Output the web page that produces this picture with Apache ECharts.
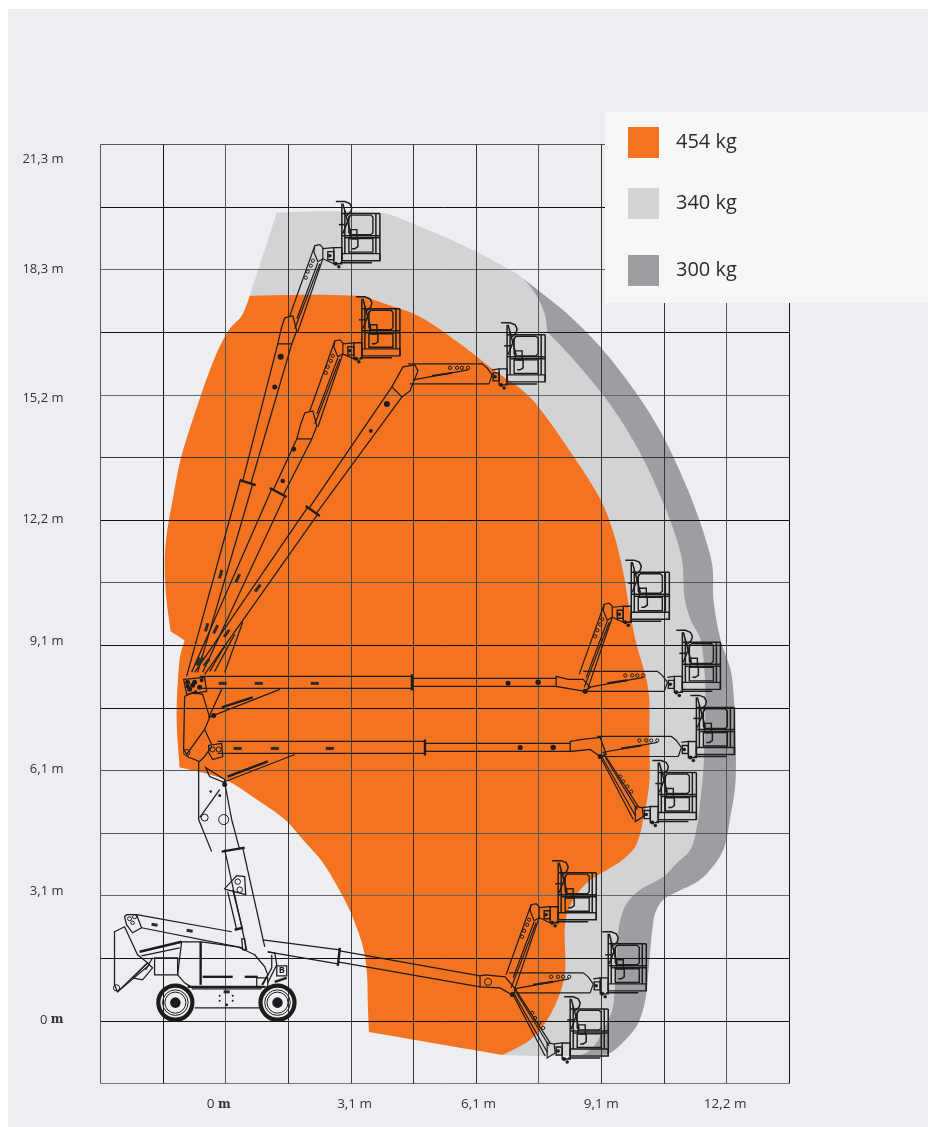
<!DOCTYPE html>
<html><head><meta charset="utf-8">
<script src="https://cdn.jsdelivr.net/npm/echarts@6/dist/echarts.min.js"></script>
<style>html,body{margin:0;padding:0;background:#fff}#c{width:928px;height:1127px}</style>
</head><body><div id="c"></div>
<script>
// All chart values are in feet: the diagram's grid is a 5 ft (1,52 m) mesh, measured from the machine's centre line and the ground.
const seriesNames = ['454 kg', '340 kg', '300 kg'];
const xTickPositions = [-0.56, 10.3, 20.2, 30, 39.9];
const xTickLabels = ['0 {s|m}', '3,1 m', '6,1 m', '9,1 m', '12,2 m'];
const yTickPositions = [0.08, 10.32, 20.08, 30.32, 40.08, 49.76, 60.0, 68.8];
const yTickLabels = ['0 {s|m}', '3,1 m', '6,1 m', '9,1 m', '12,2 m', '15,2 m', '18,3 m', '21,3 m'];

const reach454 = [[1.92,57.92],[10.48,57.92],[12.72,57.28],[15.52,56.24],[18.72,54.08],[21.52,51.92],[23.76,50.32],[25.12,48.88],[27.76,45.12],[29.92,41.68],[30.96,39.04],[31.76,35.84],[32.16,33.44],[32.72,30.48],[33.76,26.48],[33.84,23.04],[33.84,19.04],[33.36,16.08],[32.96,14.48],[32.56,13.68],[31.52,12.72],[30.08,11.84],[28.88,11.04],[27.76,9.68],[27.12,7.84],[27.12,4.08],[26.72,2.24],[25.68,0.08],[24.32,-1.52],[22.08,-2.72],[11.44,-0.88],[11.36,1.12],[11.28,3.84],[10.96,5.92],[10.16,8.24],[9.28,10.08],[7.76,12.64],[6.16,14.48],[4.72,16.08],[2.48,17.68],[-0.08,19.28],[-3.68,20.24],[-3.92,24.32],[-3.68,28.88],[-3.28,30.4],[-4.4,31.12],[-4.8,34.48],[-4.8,38.08],[-4.08,42.48],[-3.6,44.88],[-2.88,47.28],[-2.08,49.68],[-1.28,51.92],[-0.56,53.68],[0.32,55.28],[1.28,56.32]];
const reach340 = [[4.08,64.56],[12.32,64.56],[15.52,63.44],[19.52,61.68],[22.56,60.08],[23.76,59.28],[24.88,57.84],[25.52,56.32],[25.68,55.04],[27.52,53.12],[30.08,50.08],[31.76,47.68],[33.36,44.88],[34.72,41.92],[35.76,39.28],[36.48,36.64],[36.64,33.92],[37.12,32.08],[37.92,30.48],[38.24,28.08],[38.32,25.68],[38.16,20.08],[37.92,17.68],[37.68,15.68],[37.12,13.68],[36.08,12.64],[34.96,11.52],[33.12,10.48],[32.08,9.44],[31.52,8.08],[31.28,6.24],[31.12,3.04],[30.88,0.88],[30.16,-0.72],[29.36,-2.08],[28.32,-2.72],[22.16,-2.72],[13.92,9.68],[14,50],[1.92,57.92]];
const reach300 = [[23.76,59.28],[25.12,58.24],[27.28,56.48],[29.92,53.84],[32.56,50.48],[34.48,47.52],[35.76,45.04],[37.12,41.92],[38.16,39.04],[38.88,36.32],[38.96,33.68],[39.52,30.48],[40.32,28.08],[40.56,26.24],[40.72,23.04],[40.72,19.04],[40.32,16.32],[39.76,13.68],[38.72,12.08],[37.68,11.12],[36.08,10.32],[34.96,9.68],[34.32,8.64],[34.08,7.28],[33.92,5.68],[33.76,3.84],[33.52,1.68],[32.96,-0.16],[32.08,-1.36],[30.72,-2.56],[29.76,-2.72],[22.16,-2.72],[13.92,9.68]];

// Platform positions (top-left of the cage rail) and the jib pose each one uses
const platformSpots = [[9.28,64.48,'up'],[10.88,56.88,'up'],[22.48,54.8,'flat'],[32.4,35.84,'up'],[36.48,30.24,'flat'],[37.6,25.04,'flat'],[34.56,19.84,'down'],[26.56,11.84,'up'],[30.56,6.16,'flat'],[27.52,0.96,'down']];
const cageLines = [[[0,0.8],[0,-3.76]],[[3.04,0],[3.04,-3.76]],[[2.72,0],[2.72,-3.2]],[[0.24,0.24],[0.24,-3.2]],[[0,0],[3.04,0]],[[0,-1.76],[3.04,-1.76]],[[0.24,-1.92],[3.04,-1.92]],[[-0.16,-3.92],[2.4,-3.92]],[[-0.48,0.96],[0.24,0.96],[0.64,0.8],[0.8,0.48],[0.72,0.16],[0.4,-0.16]],[[0.08,0.8],[0.72,-1.6]],[[0.08,-1.6],[0.64,-0.16]],[[-0.24,-0.88],[0.24,-0.88]],[[0.8,-2],[1.28,-2],[1.28,-2.64],[1.04,-2.8],[0.8,-2.8]]];
const cageClosed = [[[0,-3.2],[3.04,-3.2],[3.04,-3.76],[0,-3.76]],[[0.72,-0.12],[2.32,-0.12],[2.48,-0.28],[2.48,-1.52],[2.32,-1.68],[0.72,-1.68],[0.56,-1.52],[0.56,-0.28]],[[0.56,-2],[2.48,-2],[2.48,-3.08],[0.56,-3.08]],[[0.64,-1.28],[1.2,-1.28],[1.2,-2],[0.64,-2]],[[-0.64,-2.72],[0,-2.72],[0,-4],[-0.64,-4]],[[-1.12,-3.04],[-0.64,-3.04],[-0.64,-3.68],[-1.12,-3.68]]];
const wristDots = [[-0.48,-4,0.16],[-0.24,-4.24,0.14],[-0.96,-3.36,0.14]];

const jibLines = {
  up: [[[-4.16,-8.16],[-2.16,-2.56]],[[-3.52,-9.44],[-1.52,-3.6]],[[-3.76,-9.2],[-1.76,-4]],[[-3.6,-8.4],[-1.92,-3.92]],[[-1.52,-2.8],[-0.64,-2.72]],[[-1.52,-3.6],[-0.64,-4]]],
  flat: [[[-7.92,-2.32],[-2,-2.32],[-1.6,-2.64],[-1.2,-3.2],[-1.44,-3.92]],[[-7.76,-3.92],[-1.44,-3.92]],[[-7.52,-3.6],[-3.12,-2.8]],[[-1.2,-2.8],[-0.64,-2.72]]],
  down: [[[-4.64,1.28],[-2,-3.76]],[[-4.4,1.6],[-1.6,-2.72]],[[-4.48,1.2],[-1.84,-3.44]],[[-4.24,1.2],[-1.68,-2.96]],[[-1.28,-2.8],[-0.64,-2.72]]]
};
const jibClosed = {
  up: [[[-2.16,-2.56],[-1.76,-2.48],[-1.52,-2.72],[-1.52,-3.6],[-1.92,-3.84],[-2.24,-3.04]]],
  flat: [],
  down: [[[-1.84,-2.72],[-1.28,-2.8],[-1.2,-3.52],[-1.84,-3.92]]]
};
const jibHoles = {
  up: [[-2.32,-3.76],[-2.48,-4.16],[-2.72,-4.64],[-2.88,-5.12]],
  flat: [[-4.56,-2.64],[-4,-2.64],[-3.6,-2.64],[-3.12,-2.64]],
  down: [[-3.04,-0.32],[-2.8,-0.72],[-2.48,-1.12],[-2.16,-1.52]]
};
const jibHeavy = { up: [], flat: [[[-6,-3.28],[-4.4,-3.04]]], down: [] };

const boomLines = [
  [[-3.12,27.52],[1.2,43.28]],[[-2.24,27.84],[2.16,42.88]],[[1.36,43.12],[4.16,54.08]],[[2,42.88],[5.28,54.08]],
  [[-2.72,27.84],[3.68,42.48]],[[-1.84,27.84],[4.72,41.92]],[[3.84,42.48],[5.68,46.48]],[[4.56,41.92],[6.88,46.48]],
  [[-2.48,27.84],[6.56,41.04]],[[-1.68,27.68],[7.36,40.48]],[[6.72,41.04],[13.28,50.64]],[[7.2,40.48],[14.08,49.84]],
  [[-1.28,27.92],[-0.08,29.92]],[[-0.08,27.84],[1.36,31.84]],[[-0.88,27.92],[0.72,30.88]],
  [[-2.08,27.52],[14.88,27.52]],[[-2.08,26.56],[14.88,26.56]],[[14.88,27.36],[26.4,27.36]],[[14.88,26.72],[26.4,26.72]],
  [[-1.36,24.24],[4.32,26.48]],[[-1.36,24.24],[-0.32,26.48]],
  [[-0.64,22.32],[15.92,22.32]],[[-0.64,21.36],[15.92,21.36]],[[15.92,22.16],[27.52,22.16]],[[15.92,21.52],[27.52,21.52]],
  [[-0.24,19.04],[5.52,21.28]],
  [[-3.28,25.92],[-2.64,26.24],[-1.84,26.08],[-1.28,24.24],[-1.68,23.28],[-1.12,22.08]],
  [[-3.28,25.92],[-3.36,21.68],[-3.12,21.28],[-1.68,23.28]],[[-3.12,21.12],[-2.08,20.72],[-1.68,21.12],[-1.12,21.92]],
  [[-2.16,20.72],[-2.16,16.08],[-1.12,13.52]],[[-0.08,19.04],[0.48,16.08],[1.12,13.68]],[[-2.08,16.24],[-0.48,18.48]],
  [[-0.08,13.68],[1.68,5.68]],[[1.36,13.84],[3.12,5.92]],[[0.16,10.32],[0.88,7.28]],[[0.56,10.48],[1.36,7.28]],
  [[-7.12,8.48],[0.48,7.12]],[[2.96,6.48],[9.12,5.68]],[[-6.72,7.44],[1.36,5.84]],[[3.36,5.52],[8.96,4.56]],
  [[9.12,5.6],[20.32,3.6]],[[8.96,4.72],[20.32,2.72]],
  [[-3.68,5.84],[-6.72,5.2]],[[-3.52,6.32],[-1.92,6.32],[0.96,5.92],[2.32,5.28],[3.12,4.32],[3.36,3.68],[2.88,2.88]],
  [[-3.52,6.32],[-3.84,3.68],[-3.28,3.04],[-2.64,2.64]],[[-8.64,2.32],[-6.08,4.48]],[[-6.4,4.08],[-5.84,5.04]],
  [[-2.72,2.56],[2.88,2.56]],[[-2.48,1.04],[2.72,1.04]],
  [[3.36,5.52],[3.92,5.44],[4.08,4.48],[3.36,3.04]],[[3.68,5.28],[3.68,4.24],[2.96,2.88]]
];
const boomHeavy = [
  [[1.12,43.2],[2.4,42.8]],[[3.52,42.56],[4.88,41.84]],[[6.4,41.12],[7.52,40.32]],[[14.88,27.68],[14.88,26.4]],[[15.92,22.48],[15.92,21.2]],
  [[-0.32,25.04],[2.16,25.84]],[[0.16,19.52],[3.36,20.72]],[[-0.32,13.52],[1.52,13.84]],[[0.72,7.28],[1.36,7.44]],[[9.12,5.84],[8.96,4.4]],
  [[-6.88,5.52],[-3.52,6.32]],[[-2,6.32],[-2,2.88]],[[-1.84,3.52],[0.56,3.52]],[[1.52,3.52],[2.56,3.52]],[[-3.04,2.72],[3.12,2.72]],[[3.92,3.12],[4.88,3.44]]
];
const boomSlots = [
  [[-0.5,35.35],[-0.3,36.01]],[[-1.62,31.11],[-1.42,31.77]],[[-2.34,28.39],[-2.14,29.05]],
  [[0.8,35.03],[1.12,35.69]],[[-0.96,30.95],[-0.64,31.61]],[[-2.16,28.39],[-1.84,29.05]],
  [[2.35,34.28],[2.77,34.84]],[[-0.13,30.68],[0.29,31.24]],[[-1.73,28.36],[-1.31,28.92]],
  [[-0.56,26.96],[0.08,26.96]],[[2.32,26.96],[2.96,26.96]],[[6.8,26.96],[7.44,26.96]],
  [[0.64,21.76],[1.28,21.76]],[[3.6,21.76],[4.24,21.76]],[[8,21.76],[8.64,21.76]],
  [[-5.92,7.72],[-5.44,7.64]],[[-3.12,7.24],[-2.64,7.16]],[[-0.16,2.32],[0.32,2.32]]
];
const machineClosed = [
  [[-3.36,27.28],[-1.68,27.44],[-1.52,26.32],[-3.12,26.08]],
  [[4.72,56.16],[5.36,56.32],[5.68,55.12],[5.28,54.08],[4.16,54.08],[4.48,55.44]],
  [[6.32,48.56],[6.96,48.72],[7.28,47.52],[6.88,46.48],[5.68,46.48],[6,47.68]],
  [[13.28,50.64],[14.16,52.24],[15.12,52.4],[15.36,51.92],[14.72,50.32],[14.08,49.84]],
  [[26.4,27.52],[27.36,27.28],[28.56,27.28],[29.12,26.64],[28.72,26.32],[27.76,26.48],[26.4,26.72]],
  [[27.52,22.32],[28.48,22.48],[29.92,22.64],[30.4,21.28],[29.92,21.12],[29.12,21.68],[27.52,21.52]],
  [[-1.36,22],[-0.32,22.16],[-0.24,21.12],[-1.04,20.88],[-1.36,21.44]],
  [[-1.6,20.24],[-0.08,19.28],[-0.08,19.04],[-1.28,19.52]],
  [[-0.08,10.56],[0.88,11.6],[1.52,11.52],[1.6,10.08],[0.08,10.48]],
  [[1.28,6.56],[1.52,6.56],[1.6,5.68],[1.36,5.68]],
  [[20.32,3.6],[20.72,3.68],[22.32,3.52],[23.2,2.48],[22.88,2.08],[21.92,2.64],[20.32,2.72]],
  [[-8.08,8.32],[-7.92,8.48],[-7.12,8.48],[-6.72,7.44],[-7.44,7.04],[-7.92,7.68]],
  [[-8.88,7.12],[-8.08,7.52],[-7.04,5.28],[-6.24,4.64],[-8.64,2.32],[-8.88,2.88]],
  [[-5.68,5.04],[-3.84,5.04],[-3.84,3.68],[-5.68,3.68]],
  [[-7.44,3.44],[-6.24,4.64],[-5.84,4.24],[-6.64,3.28]],
  [[2.48,3.44],[3.36,3.44],[3.36,2.72],[2.48,2.72]],
  [[4.08,4.4],[4.88,4.4],[4.88,3.6],[4.08,3.6]]
];
const machineRings = [[-0.16,16.08,0.4],[-1.68,16.24,0.28],[-1.04,21.68,0.2],[-0.56,21.68,0.2],[0.96,11.12,0.22],[1.12,10.48,0.22],[20.96,3.12,0.28],[-8.72,2.64,0.25],[-7.68,8.16,0.16],[-7.28,8.32,0.16],[-7.44,7.84,0.14],[-3.12,21.44,0.25]];
const machineDots = [[4.4,53.04,0.24],[3.92,50.64,0.2],[5.44,45.68,0.2],[4.56,43.12,0.18],[12.88,49.28,0.24],[11.6,47.12,0.15],[22.56,26.96,0.2],[24.96,27.04,0.22],[23.52,21.84,0.2],[26.16,21.84,0.22],[28.72,26.32,0.2],[29.92,21.12,0.2],[-3.04,27.04,0.2],[-2.48,27.04,0.2],[-2.88,26.48,0.2],[-2.08,26.64,0.2],[-2.64,26.8,0.2],[-1.92,27.2,0.16],[-2.4,26.24,0.16],[-3.04,26.72,0.16],[-1.2,18.32,0.1],[-0.48,18,0.12],[-0.96,24.4,0.2],[-0.08,18.88,0.2],[-0.48,2,0.08],[-0.48,1.6,0.08],[0.56,2,0.08],[0.56,1.6,0.08],[0.08,1.28,0.11],[22.88,2.08,0.18]];
const wheelHubs = [[-4.02,1.46],[4.14,1.46]];
const plateLetter = [4.48, 4, 'B'];

const GRID_LEFT = 100.5, GRID_TOP = 144.5, GRID_W = 688.5, GRID_H = 939;
const xGridColors = ['#555','#111','#555','#333','#444','#333','#333','#555','#333','#333','#555','#111'];
const yGridColors = ['#777','#111','#111','#666','#555','#555','#111','#111','#555','#111','#333','#666','#111','#666','#111','#555'];

// Assemble the machine into drawable pieces
const shapes = [];
const add = (kind, pts, extra) => shapes.push(Object.assign({ kind, pts }, extra));
const shift = (pts, o) => pts.map(p => [p[0] + o[0], p[1] + o[1]]);
boomLines.forEach(p => add('line', p, { w: 1.25 }));
boomHeavy.forEach(p => add('line', p, { w: 2.4 }));
boomSlots.forEach(p => add('line', p, { w: 3, c: '#2b2b2b' }));
machineClosed.forEach(p => add('poly', p, { w: 1.25 }));
machineRings.forEach(r => add('ring', [[r[0], r[1]]], { r: r[2], w: 1 }));
machineDots.forEach(r => add('dot', [[r[0], r[1]]], { r: r[2] }));
wheelHubs.forEach(h => {
  add('ring', [h], { r: 1.36, w: 4.2 });
  add('ring', [h], { r: 1.02, w: 1 });
  add('ring', [h], { r: 0.84, w: 1 });
  add('dot', [h], { r: 0.42 });
});
platformSpots.forEach(s => {
  const o = [s[0], s[1]], pose = s[2];
  cageLines.forEach(p => add('line', shift(p, o), { w: 1.5 }));
  cageClosed.forEach(p => add('poly', shift(p, o), { w: 1.4 }));
  wristDots.forEach(d => add('dot', shift([d], o), { r: d[2] }));
  jibLines[pose].forEach(p => add('line', shift(p, o), { w: 1.2 }));
  jibClosed[pose].forEach(p => add('poly', shift(p, o), { w: 1.2 }));
  jibHeavy[pose].forEach(p => add('line', shift(p, o), { w: 2 }));
  jibHoles[pose].forEach(d => add('ring', shift([d], o), { r: 0.13, w: 1 }));
});
add('text', [[plateLetter[0], plateLetter[1]]], { t: plateLetter[2] });

// Draws a smooth outline through the read points, keeping genuine corners sharp.
function curvedRing(pts) {
  const n = pts.length, out = [];
  const at = i => pts[(i + n) % n];
  const len = (a, b) => Math.hypot(b[0] - a[0], b[1] - a[1]) || 1;
  const corner = i => {
    const a = at(i - 1), b = at(i), c = at(i + 1);
    const u = [b[0] - a[0], b[1] - a[1]], v = [c[0] - b[0], c[1] - b[1]];
    return (u[0] * v[0] + u[1] * v[1]) / (len(a, b) * len(b, c)) < Math.cos(35 * Math.PI / 180);
  };
  const tangent = i => { const a = at(i - 1), c = at(i + 1), l = len(a, c); return [(c[0] - a[0]) / l, (c[1] - a[1]) / l]; };
  for (let i = 0; i < n; i++) {
    const p1 = at(i), p2 = at(i + 1), d = len(p1, p2) / 3;
    const t1 = corner(i) ? [0, 0] : tangent(i), t2 = corner(i + 1) ? [0, 0] : tangent(i + 1);
    const c1 = [p1[0] + t1[0] * d, p1[1] + t1[1] * d], c2 = [p2[0] - t2[0] * d, p2[1] - t2[1] * d];
    for (let k = 0; k < 8; k++) {
      const t = k / 8, m = 1 - t;
      out.push([0, 1].map(j => m * m * m * p1[j] + 3 * m * m * t * c1[j] + 3 * m * t * t * c2[j] + t * t * t * p2[j]));
    }
  }
  return out;
}
function renderArea(points) {
  return function (params, api) {
    if (params.dataIndex !== 0) return null;
    return { type: 'polygon', shape: { points: curvedRing(points.map(p => api.coord(p))) }, style: { fill: api.visual('color') }, silent: true };
  };
}
const INK = '#1c1c1c';
function renderPiece(params, api) {
  const s = shapes[params.dataIndex];
  const pts = s.pts.map(p => api.coord(p));
  if (s.kind === 'line') return { type: 'polyline', shape: { points: pts }, style: { fill: null, stroke: s.c || INK, lineWidth: s.w }, silent: true };
  if (s.kind === 'poly') return { type: 'polygon', shape: { points: pts }, style: { fill: null, stroke: INK, lineWidth: s.w }, silent: true };
  const r = s.r ? api.size([s.r, 0])[0] : 0;
  if (s.kind === 'ring') return { type: 'circle', shape: { cx: pts[0][0], cy: pts[0][1], r }, style: { fill: null, stroke: INK, lineWidth: s.w }, silent: true };
  if (s.kind === 'dot') return { type: 'circle', shape: { cx: pts[0][0], cy: pts[0][1], r }, style: { fill: INK }, silent: true };
  return { type: 'text', x: pts[0][0], y: pts[0][1], style: { text: s.t, fill: INK, font: 'bold 9px "Open Sans"', textAlign: 'center', textVerticalAlign: 'middle' }, silent: true };
}

const lookup = (pos, lab) => v => { const i = pos.findIndex(p => Math.abs(p - v) < 0.01); return i < 0 ? '' : lab[i]; };
const labelRich = { s: { fontFamily: '"DejaVu Serif"', fontWeight: 'bold', fontSize: 12, color: '#333' } };
const areaSeries = (name, points, color) => ({
  type: 'custom', name, z: 1, clip: false, renderItem: renderArea(points), data: points, encode: { x: 0, y: 1 },
  itemStyle: { color }, silent: true, animation: false
});
const legendEntry = (name, top, dy) => ({
  data: [{ name, icon: 'rect' }], left: 628, top, padding: 0, itemWidth: 31, itemHeight: 31, selectedMode: false, z: 6,
  textStyle: { fontFamily: '"Open Sans"', fontSize: 20, color: '#2b2b2b', padding: [dy, 0, 0, 12] }
});

const chart = echarts.init(document.getElementById('c'), null, { renderer: 'canvas', width: 928, height: 1127 });
chart.setOption({
  animation: false,
  grid: { left: GRID_LEFT, top: GRID_TOP, width: GRID_W, height: GRID_H, containLabel: false },
  xAxis: {
    type: 'value', min: -10, max: 45, interval: 5, z: 2,
    axisLine: { show: false }, axisTick: { show: false },
    splitLine: { show: true, showMinLine: true, showMaxLine: true, lineStyle: { color: xGridColors, width: 1 } },
    axisLabel: { customValues: xTickPositions, formatter: lookup(xTickPositions, xTickLabels), margin: 14, color: '#333', fontFamily: '"Open Sans"', fontSize: 13.5, rich: labelRich, hideOverlap: false }
  },
  yAxis: {
    type: 'value', min: -5, max: 70, interval: 5, z: 2,
    axisLine: { show: false }, axisTick: { show: false },
    splitLine: { show: true, showMinLine: true, showMaxLine: true, lineStyle: { color: yGridColors, width: 1 } },
    axisLabel: { customValues: yTickPositions, formatter: lookup(yTickPositions, yTickLabels), margin: 37, align: 'right', color: '#333', fontFamily: '"Open Sans"', fontSize: 13, rich: labelRich, hideOverlap: false }
  },
  legend: [legendEntry(seriesNames[0], 127, 0), legendEntry(seriesNames[1], 188, 4), legendEntry(seriesNames[2], 255, 0)],
  graphic: [
    { type: 'rect', z: -10, silent: true, shape: { x: 8, y: 9, width: 920, height: 1118 }, style: { fill: '#ECEEF2' } },
    { type: 'rect', z: 5, silent: true, shape: { x: 605, y: 112, width: 323, height: 191 }, style: { fill: '#F7F7F8' } }
  ],
  series: [
    areaSeries(seriesNames[2], reach300, '#9D9EA1'),
    areaSeries(seriesNames[1], reach340, '#D1D3D5'),
    areaSeries(seriesNames[0], reach454, '#F47321'),
    { type: 'custom', name: 'machine', z: 3, clip: false, renderItem: renderPiece, silent: true, animation: false,
      data: shapes.map(s => s.pts[0]), encode: { x: 0, y: 1 } }
  ]
});
</script></body></html>
